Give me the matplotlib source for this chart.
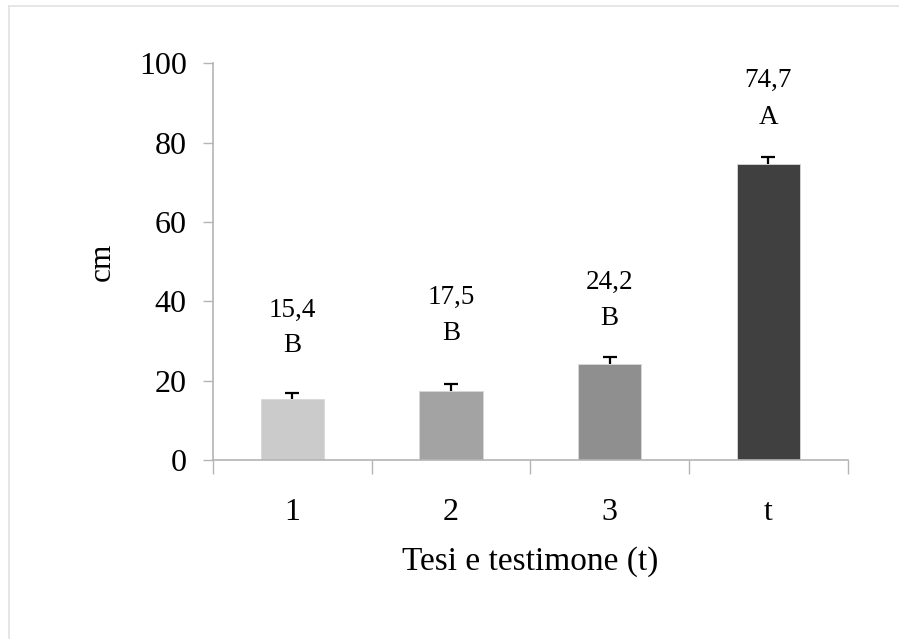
import matplotlib
matplotlib.use("Agg")
import matplotlib.pyplot as plt
from matplotlib.lines import Line2D

# Plant height (cm) per treatment and the untreated control (t)
categories = ["1", "2", "3", "t"]
heights = [15.4, 17.5, 24.2, 74.7]
errors = [1.5, 1.6, 1.8, 1.7]
groups = ["B", "B", "B", "A"]
value_labels = ["15,4", "17,5", "24,2", "74,7"]
yticks = [0, 20, 40, 60, 80, 100]

# Layout: heights (data units) of the value and letter annotations
value_label_y = [37.8, 41.0, 44.8, 95.7]
letter_label_y = [29.0, 32.0, 35.8, 86.4]
bar_colors = ["#cbcbcb", "#a3a3a3", "#8f8f8f", "#404040"]

plt.rcParams["font.family"] = ["Liberation Serif", "DejaVu Serif"]
axis_color = "#b4b4b4"

fig = plt.figure(figsize=(8.99, 6.39), dpi=100)
ax = fig.add_axes([0.237, 0.280, 0.706, 0.621])

x = list(range(1, len(categories) + 1))
ax.bar(x, heights, width=0.40, color=bar_colors, edgecolor="#d8d8d8",
       linewidth=0.6, zorder=2)
# Upper-only error bars: drop the cap drawn at the bar top
_, caps, _ = ax.errorbar(x, heights, yerr=[[0] * len(errors), errors], fmt="none",
                         ecolor="black", elinewidth=1.6, capsize=5,
                         capthick=1.6, zorder=1.5)
if len(caps) == 2:
    caps[0].set_visible(False)

for xi, v, g, vy, gy in zip(x, value_labels, groups, value_label_y, letter_label_y):
    ax.text(xi, vy, v, ha="center", va="center", fontsize=19.5)
    ax.text(xi, gy, g, ha="center", va="center", fontsize=19.5)

ax.set_xlim(0.5, len(categories) + 0.5)
ax.set_ylim(0, 100)
ax.set_yticks(yticks)
ax.set_yticklabels([str(t) for t in yticks], fontsize=23)

# Category boundaries carry the tick marks; labels sit at the bar centres
ax.set_xticks([i + 0.5 for i in range(0, len(categories) + 1)])
ax.set_xticklabels([])
ax.set_xticks(x, minor=True)
ax.set_xticklabels(categories, minor=True, fontsize=23)
ax.tick_params(axis="x", which="major", direction="out", length=10,
               width=1, color=axis_color)
ax.tick_params(axis="x", which="minor", length=0, pad=27)
ax.tick_params(axis="y", direction="out", length=7, width=1,
               color=axis_color, pad=12)

for side in ["top", "right"]:
    ax.spines[side].set_visible(False)
for side in ["left", "bottom"]:
    ax.spines[side].set_color(axis_color)
    ax.spines[side].set_linewidth(1.2)

ax.set_ylabel("cm", fontsize=22.5, labelpad=16)
ax.set_xlabel("Tesi e testimone (t)", fontsize=24, labelpad=14)

# Light frame around the figure (top and left edges)
fig.add_artist(Line2D([0.010, 1.0], [0.9906, 0.9906], transform=fig.transFigure,
                      color="#e2e2e2", linewidth=1.2))
fig.add_artist(Line2D([0.010, 0.010], [0.0, 0.9906], transform=fig.transFigure,
                      color="#e2e2e2", linewidth=1.2))

fig.savefig("out.png", dpi=100)
